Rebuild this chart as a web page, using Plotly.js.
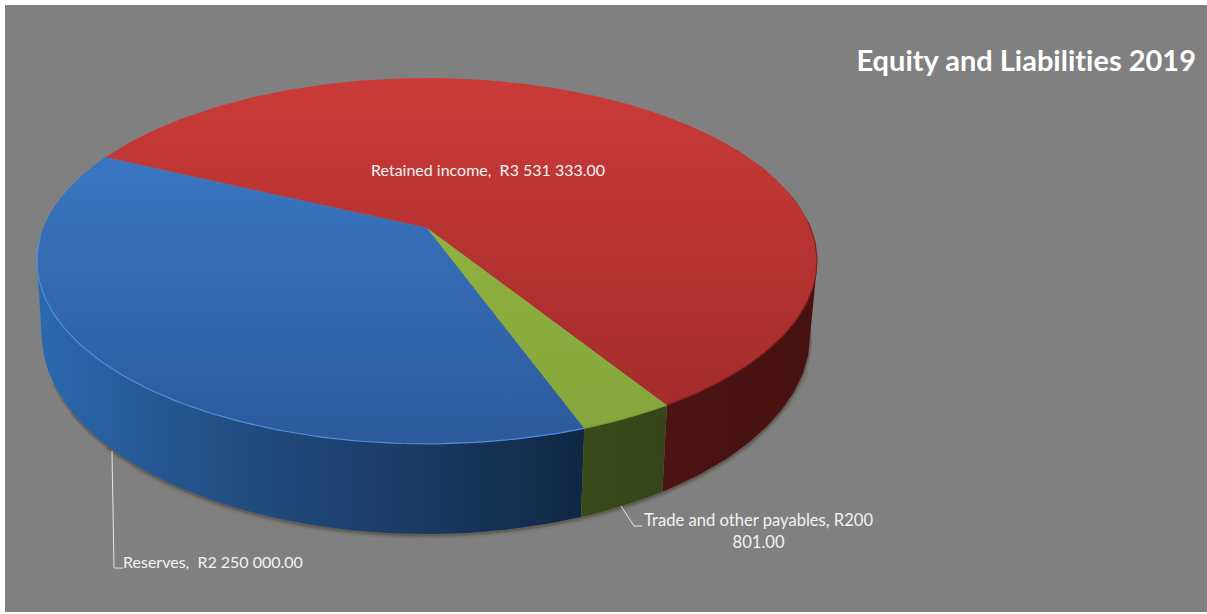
<!DOCTYPE html>
<html>
<head>
<meta charset="utf-8">
<script src="https://cdn.plot.ly/plotly-3.0.1.min.js"></script>
<style>
html,body{margin:0;padding:0;background:#fff;overflow:hidden}
svg text{font-variant-ligatures:none !important;font-feature-settings:"liga" 0,"clig" 0 !important}
</style>
</head>
<body>
<div id="chart" style="width:1207px;height:614px"></div>
<script>
// Equity and liabilities, 2019 (rand)
const categories = ["Retained income", "Reserves", "Trade and other payables"];
const amounts = [3531333, 2250000, 200801];

// Disc geometry: a unit circle seen in perspective, in axis units.
const startAngle = -58;
const perspective = 0.18;
const topDisc = {cx: 427, a: 383.6, y0: 228, b: 177};
const baseDisc = {cx: 426, a: 378, y0: 298, b: 193.5};

const faceColors = [
  {stops: ["#ca3b39", "#9f2a28"], rim: "#8a201e", wall: ["#4c1412", "#461210"]},
  {stops: ["#3d7ecd", "#2c5a9b"], rim: "#4f90dc", wall: ["#2b69b0", "#234f85", "#1b3c66", "#0f2744"]},
  {stops: ["#97ba44", "#84a53a"], rim: "#7c9a36", wall: ["#3a4a1a", "#36441a"]}
];

const rad = d => d * Math.PI / 180;
function project(deg, disc) {
  const u = Math.cos(rad(deg)), v = Math.sin(rad(deg)), w = 1 + perspective * v;
  return [disc.cx + disc.a * u / w, disc.y0 - disc.b * v / w];
}
function arc(from, to, disc) {
  const n = Math.max(2, Math.ceil(Math.abs(to - from)));
  const pts = [];
  for (let i = 0; i <= n; i++) pts.push(project(from + (to - from) * i / n, disc));
  return pts;
}
// Convex outline of a point set, used for the wall silhouettes
function hull(points) {
  const pts = points.slice().sort((p, q) => p[0] - q[0] || p[1] - q[1]);
  const cross = (o, a, b) => (a[0] - o[0]) * (b[1] - o[1]) - (a[1] - o[1]) * (b[0] - o[0]);
  const half = list => {
    const out = [];
    list.forEach(p => {
      while (out.length > 1 && cross(out[out.length - 2], out[out.length - 1], p) <= 0) out.pop();
      out.push(p);
    });
    out.pop();
    return out;
  };
  const ring = half(pts).concat(half(pts.slice().reverse()));
  ring.push(ring[0]);
  return ring;
}
const scale = stops => stops.map((c, i) => [i / (stops.length - 1), c]);

// Sweep each slice counter-clockwise from the start angle.
const total = amounts.reduce((s, v) => s + v, 0);
let cursor = startAngle;
const slices = amounts.map(v => {
  const sweep = v / total * 360;
  const s = {from: cursor, to: cursor + sweep};
  cursor += sweep;
  return s;
});

const traces = [];
const base = {type: "scatter", mode: "lines", hoverinfo: "skip", showlegend: false};

// Soft shadow along the visible lower rim, layers tapering towards the ends
[[9, "rgba(70,62,52,0.09)", 222, 340], [5, "rgba(70,55,40,0.16)", 212, 348], [2.5, "rgba(60,45,30,0.26)", 204, 354]].forEach(([w, c, from, to]) => {
  const pts = arc(from, to, baseDisc);
  traces.push({...base, x: pts.map(p => p[0]), y: pts.map(p => p[1] + 1), line: {color: c, width: w}});
});

// Side walls; the red one stops just past the right-hand tangent, the rest is hidden
const wallRanges = [
  [slices[0].from, 12],
  [slices[1].from, slices[1].to],
  [slices[2].from, slices[2].to]
];
wallRanges.forEach(([from, to], i) => {
  const ring = hull(arc(from, to, topDisc).concat(arc(from, to, baseDisc)));
  const xs = ring.map(p => p[0]);
  traces.push({...base, x: xs, y: ring.map(p => p[1]), fill: "toself", line: {width: 0},
    fillgradient: {type: "horizontal", colorscale: scale(faceColors[i].wall),
      start: Math.min(...xs), stop: Math.max(...xs)}});
});

// Top faces with a vertical gradient
slices.forEach((s, i) => {
  const pts = [[topDisc.cx, topDisc.y0], ...arc(s.from, s.to, topDisc), [topDisc.cx, topDisc.y0]];
  traces.push({...base, name: categories[i], x: pts.map(p => p[0]), y: pts.map(p => p[1]),
    fill: "toself", line: {width: 0},
    fillgradient: {type: "vertical", colorscale: scale(faceColors[i].stops), start: 78, stop: 444}});
});

// Bright or dark edge where the top face meets the wall
[
  [0, slices[0].from, 2],
  [1, 183, slices[1].to],
  [2, slices[2].from, slices[2].to]
].forEach(([i, from, to]) => {
  const pts = arc(from, to, topDisc);
  traces.push({...base, x: pts.map(p => p[0]), y: pts.map(p => p[1]),
    line: {color: faceColors[i].rim, width: 1.2}});
});

// Leader lines for the labels outside the pie
const leaders = [
  {x: [112, 114, 123], y: [451, 568, 568]},
  {x: [621, 634, 642], y: [506, 526, 526]}
];
leaders.forEach(l => traces.push({...base, x: l.x, y: l.y, line: {color: "#e4e4e4", width: 1}}));

const money = v => "R" + String(Math.round(v)).replace(/\B(?=(\d{3})+$)/g, " ") + ".00";

const labelFont = size => ({family: "Lato, 'Open Sans', sans-serif", size, color: "#f2f2f2"});
const note = (x, y, text, xanchor, size) => ({xref: "x", yref: "y", x, y, text, xanchor, yanchor: "middle",
  showarrow: false, font: labelFont(size), align: "center"});

const tradeText = money(amounts[2]).split(" ");
const annotations = [
  note(487.5, 169, categories[0] + ",  " + money(amounts[0]), "center", 16),
  note(121, 561, categories[1] + ",  " + money(amounts[1]), "left", 16),
  note(758, 531, categories[2] + ", " + tradeText[0] + "<br>" + tradeText[1], "center", 16.6)
];

const layout = {
  width: 1207, height: 614,
  margin: {l: 5, r: 0, t: 5, b: 2, pad: 0},
  paper_bgcolor: "#ffffff",
  plot_bgcolor: "#808080",
  showlegend: false,
  title: {
    text: "<b>Equity and Liabilities 2019</b>",
    x: 1191 / 1202, xref: "paper", xanchor: "right",
    y: 1 - 61 / 614, yref: "container", yanchor: "middle",
    font: {family: "Lato, 'Open Sans', sans-serif", size: 29, color: "#ffffff"}
  },
  xaxis: {range: [5, 1207], visible: false, fixedrange: true},
  yaxis: {range: [612, 5], visible: false, fixedrange: true},
  annotations
};

Plotly.newPlot("chart", traces, layout, {displayModeBar: false, staticPlot: true});
</script>
</body>
</html>
